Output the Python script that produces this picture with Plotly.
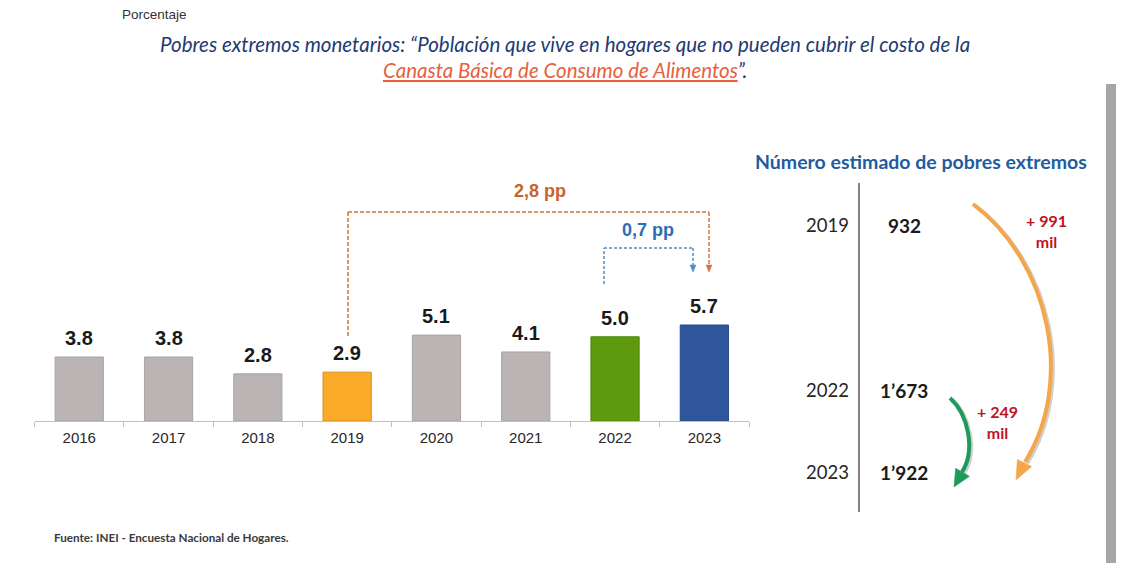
import plotly.graph_objects as go

# ---------------- data ----------------
years = ["2016", "2017", "2018", "2019", "2020", "2021", "2022", "2023"]
pct = [3.8, 3.8, 2.8, 2.9, 5.1, 4.1, 5.0, 5.7]
pct_labels = ["3.8", "3.8", "2.8", "2.9", "5.1", "4.1", "5.0", "5.7"]
bar_colors = ["#BAB5B4", "#BAB5B4", "#BAB5B4", "#FBAB27", "#BAB5B4", "#BAB5B4", "#5E9A0E", "#2F569C"]
bar_lines = ["#A9A4A3", "#A9A4A3", "#A9A4A3", "#D98E1C", "#A9A4A3", "#A9A4A3", "#4F850B", "#264A88"]

est_years = ["2019", "2022", "2023"]
est_values = ["932", "1’673", "1’922"]
diff_labels = ["+ 991<br>mil", "+ 249<br>mil"]
pp_labels = ["2,8 pp", "0,7 pp"]

# page body has an 8px margin: figure is drawn from (8, 8) on screen
OFF = 8
W, H = 1125 - 2 * OFF, 571 - 2 * OFF


def px(x):
    return (x - OFF) / W


def py(y):
    return 1 - (y - OFF) / H


fig = go.Figure()
fig.add_trace(go.Bar(
    x=years, y=pct, width=0.54,
    marker=dict(color=bar_colors, line=dict(color=bar_lines, width=1)),
    hoverinfo="x+y",
))

annotations = []
shapes = []


def note(x, y, text, size, color, family="Lato", xanchor="center", yanchor="middle"):
    annotations.append(dict(x=px(x), y=py(y), xref="paper", yref="paper", text=text,
                            showarrow=False, xanchor=xanchor, yanchor=yanchor,
                            font=dict(family=family, size=size, color=color)))


# bar value labels
for i, (v, lab) in enumerate(zip(pct, pct_labels)):
    annotations.append(dict(x=i, y=v, xref="x", yref="y", text=f"<b>{lab}</b>",
                            showarrow=False, xanchor="center", yanchor="bottom", yshift=6,
                            font=dict(family="Liberation Sans", size=20, color="#1A1A1A")))

# header texts
note(120, 15, "Porcentaje", 13.5, "#333333", family="Liberation Sans", xanchor="left")
note(565, 44, "<i>Pobres extremos monetarios: “Población que vive en hogares que no pueden cubrir el costo de la</i>",
     20.5, "#1F3A73")
note(565, 70, "<i><span style='color:#E8603C'><u>Canasta Básica de Consumo de Alimentos</u></span>”.</i>",
     20.5, "#1F3A73")


# pp brackets
def dashed(x0, y0, x1, y1, color, dash):
    shapes.append(dict(type="line", xref="paper", yref="paper", x0=px(x0), y0=py(y0), x1=px(x1), y1=py(y1),
                       line=dict(color=color, width=1.5, dash=dash)))


def tri(tipx, tipy, dx, dy, length, half, color):
    n = (dx * dx + dy * dy) ** 0.5
    ux, uy = dx / n, dy / n
    bx, by = tipx - length * ux, tipy - length * uy
    nx, ny = -uy, ux
    p1 = (bx + half * nx, by + half * ny)
    p2 = (bx - half * nx, by - half * ny)
    path = f"M {px(tipx)} {py(tipy)} L {px(p1[0])} {py(p1[1])} L {px(p2[0])} {py(p2[1])} Z"
    shapes.append(dict(type="path", xref="paper", yref="paper", path=path,
                       fillcolor=color, line=dict(color=color, width=0.5)))


oc = "#D0743C"
od = "4px,2px"
dashed(348, 336, 348, 212, oc, od)
dashed(348, 212, 709, 212, oc, od)
dashed(709, 212, 709, 266, oc, od)
tri(709, 272, 0, 1, 7, 3, oc)
bc = "#4A8FD0"
bd = "3px,2px"
dashed(604, 284, 604, 248, bc, bd)
dashed(604, 248, 693, 248, bc, bd)
dashed(693, 248, 693, 266, bc, bd)
tri(693, 272, 0, 1, 7, 3, bc)

note(540, 191, f"<b>{pp_labels[0]}</b>", 18, "#C9632A", family="Liberation Sans")
note(648, 230, f"<b>{pp_labels[1]}</b>", 18, "#2E6DB4", family="Liberation Sans")

# right panel
note(921, 161, "<b>Número estimado de pobres extremos</b>", 19.5, "#1F5C9E")
shapes.append(dict(type="line", xref="paper", yref="paper", x0=px(859), x1=px(859), y0=py(183), y1=py(512),
                   line=dict(color="#5A5A5A", width=1.5)))
row_y = [225, 390, 472]
for yr, val, yy in zip(est_years, est_values, row_y):
    note(851, yy, yr, 18.5, "#262626", xanchor="right")
    note(904, yy, f"<b>{val}</b>", 19, "#1A1A1A")


# curved arrows
def curve(pts, color, width):
    (x0, y0), (c1x, c1y), (c2x, c2y), (x1, y1) = pts
    path = (f"M {px(x0)} {py(y0)} C {px(c1x)} {py(c1y)}, {px(c2x)} {py(c2y)}, {px(x1)} {py(y1)}")
    shapes.append(dict(type="path", xref="paper", yref="paper", path=path,
                       line=dict(color=color, width=width)))


orange_pts = [(973, 204), (1050, 262), (1075, 382), (1025, 462)]
green_pts = [(950, 398), (968, 414), (976, 450), (962, 472)]
sh = [(x + 2, y + 1.5) for x, y in orange_pts]
curve(sh, "rgba(120,120,120,0.35)", 4)
curve(orange_pts, "#F5A54A", 4)
tri(1016, 480, -0.45, 0.9, 19, 8, "#F5A54A")
shg = [(x + 2, y + 1.5) for x, y in green_pts]
curve(shg, "rgba(120,120,120,0.35)", 4)
curve(green_pts, "#1E9A5A", 4)
tri(954, 487, -0.5, 0.86, 17, 8, "#1E9A5A")

note(1046, 231, f"<b>{diff_labels[0]}</b>", 16, "#C0141E")
note(997, 422, f"<b>{diff_labels[1]}</b>", 16, "#C0141E")

# footer
note(52, 537, "<b>Fuente: INEI - Encuesta Nacional de Hogares.</b>", 11.7, "#3A3A3A", xanchor="left")

# screenshot frame (scrollbar)
shapes.append(dict(type="rect", xref="paper", yref="paper", x0=px(1106), x1=px(1116), y0=py(84), y1=0,
                   fillcolor="#A6A6A6", line=dict(width=0)))

fig.update_layout(
    width=W, height=H,
    margin=dict(l=0, r=0, t=0, b=0),
    paper_bgcolor="white", plot_bgcolor="white",
    showlegend=False,
    xaxis=dict(domain=[px(34.6), px(749)], type="category", range=[-0.5, 7.5],
               showline=True, linecolor="#BFBFBF", linewidth=1,
               ticks="outside", tickson="boundaries", ticklen=5, tickcolor="#BFBFBF",
               ticklabelstandoff=3,
               tickfont=dict(family="Liberation Sans", size=15, color="#262626"),
               showgrid=False, zeroline=False),
    yaxis=dict(domain=[py(421), py(150)], range=[0, 16.09], visible=False, showgrid=False, zeroline=False),
    annotations=annotations,
    shapes=shapes,
)

fig.write_html("out.html")
